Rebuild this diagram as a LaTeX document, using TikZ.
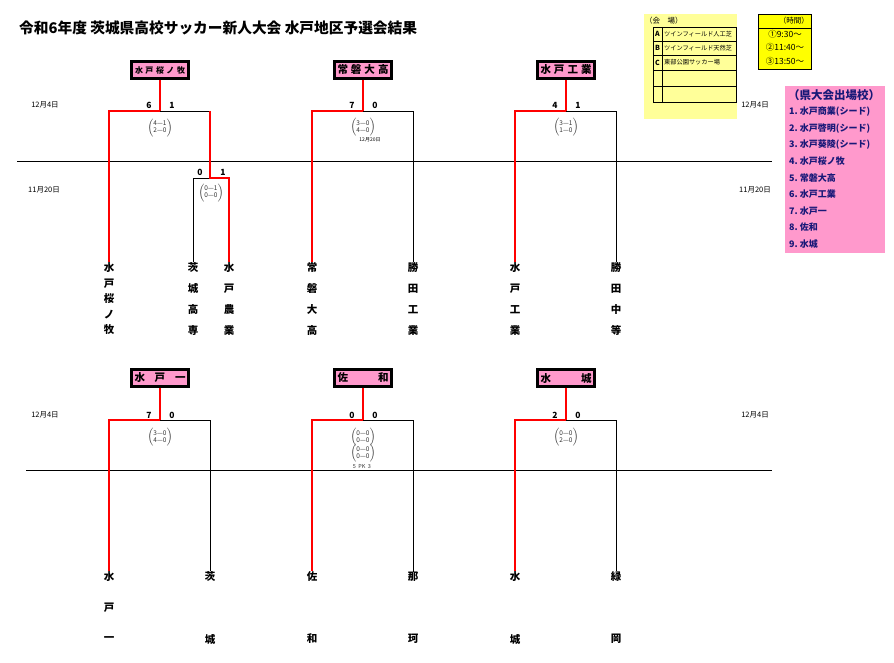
\documentclass[tikz,border=0pt]{standalone}
\usepackage{fontspec}
\setmainfont{Noto Sans CJK JP}
\usetikzlibrary{positioning,calc}

\definecolor{boxpink}{RGB}{255,153,204}
\definecolor{venueyellow}{RGB}{255,255,153}
\definecolor{timeyellow}{RGB}{255,255,0}
\definecolor{listnavy}{RGB}{24,24,120}
\definecolor{winred}{RGB}{255,0,0}

\newcommand{\fs}[1]{\fontsize{#1}{#1}\selectfont}
\newcommand{\pkpair}[2]{$\left(\begin{tabular}{@{}c@{}}#1\\#2\end{tabular}\right)$}
\newcommand{\spread}[2]{\makebox[#1][s]{#2}}

\tikzset{
  winbox/.style={draw=black, line width=2.3pt, fill=boxpink, minimum width=57pt,
    minimum height=17pt, inner sep=0pt, font=\bfseries\fs{10.5}},
  winline/.style={winred, line width=2.2pt},
  loseline/.style={black, line width=0.9pt},
  score/.style={font=\bfseries\fs{8.5}, inner sep=0pt},
  datelbl/.style={font=\fs{7.5}, inner sep=0pt},
  teamchr/.style={font=\bfseries\fs{10.5}, inner sep=0.5pt},
  detail/.style={font=\fontsize{6.5}{7}\selectfont, text=black!80, inner sep=0pt},
  venuetxt/.style={font=\fs{6.2}, inner sep=0pt, anchor=west},
  listtxt/.style={font=\bfseries\fs{9}, text=listnavy, inner sep=0pt, anchor=west},
}

\begin{document}
\begin{tikzpicture}[x=1pt,y=-1pt, line join=miter]
  \useasboundingbox (0,0) rectangle (894,663);

  % ---- title
  \node[anchor=west, inner sep=0pt, font=\bfseries\fs{14.7}] (Title) at (19,28)
    {令和6年度 茨城県高校サッカー新人大会 水戸地区予選会結果};

  % ---- venue table
  \fill[venueyellow] (644,14) rectangle (737,119);
  \node[anchor=west, inner sep=0pt, font=\fs{7.5}] (VenTitle) at (645,21) {（会　場）};
  \draw[line width=0.9pt] (653,27) rectangle (736,102);
  \foreach \yy in {41,55,70,86}{
    \draw[line width=0.9pt] (653,\yy) -- (736,\yy);
  }
  \draw[line width=0.9pt] (662,27) -- (662,102);
  \foreach \lt/\txt/\yy [count=\k] in {A/ツインフィールド人工芝/34, B/ツインフィールド天然芝/48,
      C/東部公園サッカー場/62.5}{
    \node[font=\bfseries\fs{7}, inner sep=0pt] (VenKey\k) at (657.5,\yy) {\lt};
    \node[venuetxt] (VenName\k) at (664,\yy) {\txt};
  }

  % ---- kick-off times
  \draw[fill=timeyellow, line width=0.9pt] (758,14) rectangle (811,69);
  \draw[line width=0.9pt] (758,28) -- (811,28);
  \node[anchor=east, inner sep=0pt, font=\fs{7.5}] (TimeTitle) at (809,21) {（時間）};
  \node[inner sep=0pt, font=\fs{8.5}] (TimeA) at (785,34.5) {①9:30～};
  \node[inner sep=0pt, font=\fs{8.5}] (TimeB) at (785,47.5) {②11:40～};
  \node[inner sep=0pt, font=\fs{8.5}] (TimeC) at (785,61) {③13:50～};

  % ---- qualified list
  \fill[boxpink] (785,86) rectangle (885,253);
  \node[inner sep=0pt, font=\bfseries\fs{11.5}, text=listnavy] (ListTitle) at (834,95)
    {（県大会出場校）};
  \foreach \txt [count=\k] in {水戸商業(シード), 水戸啓明(シード), 水戸葵陵(シード),
      水戸桜ノ牧, 常磐大高, 水戸工業, 水戸一, 佐和, 水城}{
    \node[listtxt] (List\k) at (789,{112+(\k-1)*16.5}) {\k.\ \txt};
  }

  % ---- section rules + dates
  \draw[loseline] (17,161) -- (772,161);
  \draw[loseline] (26,470) -- (772,470);
  \node[datelbl] (DateA) at (45,105) {12月4日};
  \node[datelbl] (DateB) at (755,105) {12月4日};
  \node[datelbl] (DateC) at (44,190) {11月20日};
  \node[datelbl] (DateD) at (755,190) {11月20日};
  \node[datelbl] (DateE) at (45,415) {12月4日};
  \node[datelbl] (DateF) at (755,415) {12月4日};

  % ---- team names, upper block
  \def\yTopName{268}
  \foreach \c [count=\k] in {水,戸,桜,ノ,牧}
    \node[teamchr] (NmA\k) at (109,{\yTopName+(\k-1)*15.5}) {\c};
  \foreach \c [count=\k] in {茨,城,高,専}
    \node[teamchr] (NmB\k) at (193,{\yTopName+(\k-1)*20.7}) {\c};
  \foreach \c [count=\k] in {水,戸,農,業}
    \node[teamchr] (NmC\k) at (229,{\yTopName+(\k-1)*20.7}) {\c};
  \foreach \c [count=\k] in {常,磐,大,高}
    \node[teamchr] (NmD\k) at (312,{\yTopName+(\k-1)*20.7}) {\c};
  \foreach \c [count=\k] in {勝,田,工,業}
    \node[teamchr] (NmE\k) at (413,{\yTopName+(\k-1)*20.7}) {\c};
  \foreach \c [count=\k] in {水,戸,工,業}
    \node[teamchr] (NmF\k) at (515,{\yTopName+(\k-1)*20.7}) {\c};
  \foreach \c [count=\k] in {勝,田,中,等}
    \node[teamchr] (NmG\k) at (616,{\yTopName+(\k-1)*20.7}) {\c};

  % ---- team names, lower block
  \def\yLowName{577}
  \foreach \c [count=\k] in {水,戸,一}
    \node[teamchr] (NmH\k) at (109,{\yLowName+(\k-1)*31}) {\c};
  \foreach \c [count=\k] in {茨,城}
    \node[teamchr] (NmI\k) at (210,{\yLowName+(\k-1)*62}) {\c};
  \foreach \c [count=\k] in {佐,和}
    \node[teamchr] (NmJ\k) at (312,{\yLowName+(\k-1)*62}) {\c};
  \foreach \c [count=\k] in {那,珂}
    \node[teamchr] (NmK\k) at (413,{\yLowName+(\k-1)*62}) {\c};
  \foreach \c [count=\k] in {水,城}
    \node[teamchr] (NmL\k) at (515,{\yLowName+(\k-1)*62}) {\c};
  \foreach \c [count=\k] in {緑,岡}
    \node[teamchr] (NmM\k) at (616,{\yLowName+(\k-1)*62}) {\c};

  % ---- bracket A : 水戸桜ノ牧
  \coordinate (JA) at (160,111);
  \coordinate (JAl) at (109,111);
  \coordinate (JAr) at (210,111);
  \coordinate (JAs) at (210,178);
  \coordinate (JAsl) at (193,178);
  \coordinate (JAsr) at (229,178);
  \draw[loseline] (JA) -- (JAr);
  \draw[loseline] (JAs) -- (JAsl) -- (NmB1.north);
  \draw[winline] (JA) -- (JAl) -- (NmA1.north);
  \draw[winline] (JAr) -- (JAs) -- (JAsr) -- (NmC1.north);
  \node[winbox] (WinA) at (160,70) {\spread{50pt}{\fs{8}水\hfill 戸\hfill 桜\hfill ノ\hfill 牧}};
  \draw[winline] (WinA.south) -- (JA);
  \node[score] (ScA1) at (149,105) {6};
  \node[score] (ScA2) at (172,105) {1};
  \node[detail] (PkA) at (160,128) {\pkpair{4—1}{2—0}};
  \node[score] (ScA3) at (200,172) {0};
  \node[score] (ScA4) at (223,172) {1};
  \node[detail] (PkAs) at (211,193) {\pkpair{0—1}{0—0}};

  % ---- bracket B : 常磐大高
  \coordinate (JB) at (363,111);
  \coordinate (JBl) at (312,111);
  \coordinate (JBr) at (413,111);
  \draw[loseline] (JB) -- (JBr) -- (NmE1.north);
  \draw[winline] (JB) -- (JBl) -- (NmD1.north);
  \node[winbox] (WinB) at (363,70) {\spread{51pt}{常\hfill 磐\hfill 大\hfill 高}};
  \draw[winline] (WinB.south) -- (JB);
  \node[score] (ScB1) at (352,105) {7};
  \node[score] (ScB2) at (375,105) {0};
  \node[detail] (PkB) at (363,127.5) {\pkpair{3—0}{4—0}};
  \node[inner sep=0pt, font=\fs{5}] (PkBdate) at (370,140) {12月20日};

  % ---- bracket C : 水戸工業
  \coordinate (JC) at (566,111);
  \coordinate (JCl) at (515,111);
  \coordinate (JCr) at (616,111);
  \draw[loseline] (JC) -- (JCr) -- (NmG1.north);
  \draw[winline] (JC) -- (JCl) -- (NmF1.north);
  \node[winbox] (WinC) at (566,70) {\spread{51pt}{水\hfill 戸\hfill 工\hfill 業}};
  \draw[winline] (WinC.south) -- (JC);
  \node[score] (ScC1) at (555,105) {4};
  \node[score] (ScC2) at (578,105) {1};
  \node[detail] (PkC) at (566,127.5) {\pkpair{3—1}{1—0}};

  % ---- bracket D : 水戸一
  \coordinate (JD) at (160,420);
  \coordinate (JDl) at (109,420);
  \coordinate (JDr) at (210,420);
  \draw[loseline] (JD) -- (JDr) -- (NmI1.north);
  \draw[winline] (JD) -- (JDl) -- (NmH1.north);
  \node[winbox] (WinD) at (160,378) {\spread{51pt}{水\hfill 戸\hfill 一}};
  \draw[winline] (WinD.south) -- (JD);
  \node[score] (ScD1) at (149,415) {7};
  \node[score] (ScD2) at (172,415) {0};
  \node[detail] (PkD) at (160,437.5) {\pkpair{3—0}{4—0}};

  % ---- bracket E : 佐和
  \coordinate (JE) at (363,420);
  \coordinate (JEl) at (312,420);
  \coordinate (JEr) at (413,420);
  \draw[loseline] (JE) -- (JEr) -- (NmK1.north);
  \draw[winline] (JE) -- (JEl) -- (NmJ1.north);
  \node[winbox] (WinE) at (363,378) {\spread{51pt}{佐\hfill 和}};
  \draw[winline] (WinE.south) -- (JE);
  \node[score] (ScE1) at (352,415) {0};
  \node[score] (ScE2) at (375,415) {0};
  \node[detail] (PkE) at (363,437.5) {\pkpair{0—0}{0—0}};
  \node[detail] (PkEx) at (363,453.5) {\pkpair{0—0}{0—0}};
  \node[inner sep=0pt, font=\fs{5.5}, text=black!80] (PkEso) at (362,466.5) {5\ \ PK\ \ 3};

  % ---- bracket F : 水城
  \coordinate (JF) at (566,420);
  \coordinate (JFl) at (515,420);
  \coordinate (JFr) at (616,420);
  \draw[loseline] (JF) -- (JFr) -- (NmM1.north);
  \draw[winline] (JF) -- (JFl) -- (NmL1.north);
  \node[winbox] (WinF) at (566,378) {\spread{51pt}{水\hfill 城}};
  \draw[winline] (WinF.south) -- (JF);
  \node[score] (ScF1) at (555,415) {2};
  \node[score] (ScF2) at (578,415) {0};
  \node[detail] (PkF) at (566,437.5) {\pkpair{0—0}{2—0}};

\end{tikzpicture}
\end{document}
